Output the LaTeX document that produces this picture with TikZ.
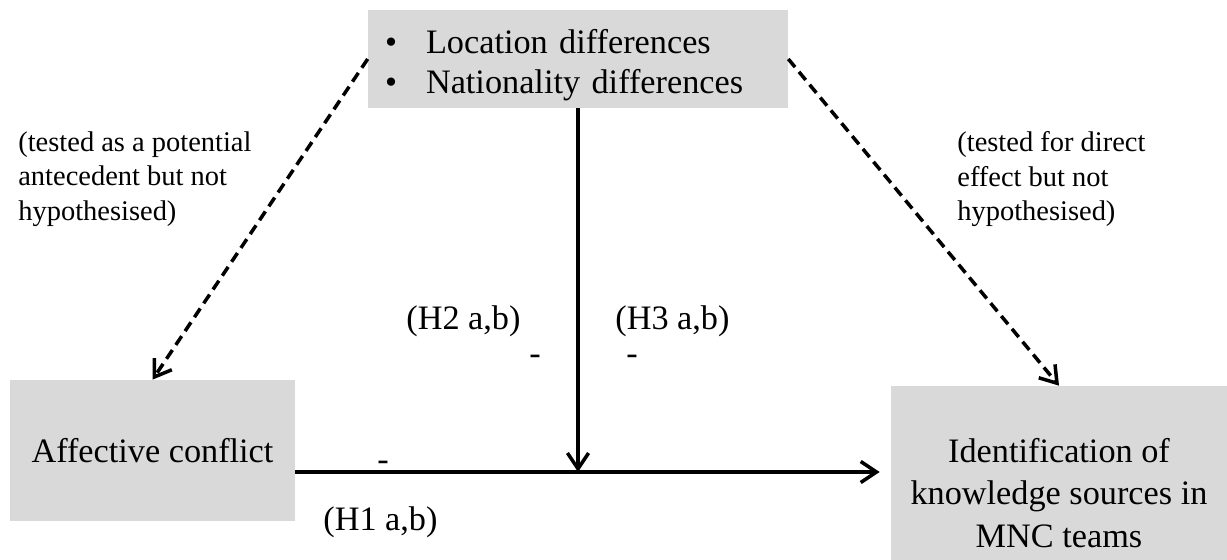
\documentclass[tikz,border=0pt]{standalone}
\usepackage{fontspec}
\setmainfont{Liberation Serif}
\usetikzlibrary{arrows.meta, positioning}
\definecolor{BoxGray}{RGB}{217,217,217}

\begin{document}
\begin{tikzpicture}[
    x=0.02cm, y=-0.02cm,
    box/.style={rectangle, fill=BoxGray, inner sep=0pt, align=center, font=\fontsize{19.5}{24}\selectfont},
    note/.style={anchor=north west, inner sep=0pt, align=left, font=\fontsize{16.2}{19.8}\selectfont},
    hyp/.style={anchor=base west, inner sep=0pt, font=\fontsize{19.5}{24}\selectfont},
    sign/.style={anchor=base, inner sep=0pt, font=\fontsize{19.5}{24}\selectfont},
    arrow/.style={-{Straight Barb[length=9pt,width=12pt]}, line width=2pt},
    dasharrow/.style={arrow, dash pattern=on 6pt off 3.5pt}
]
    \useasboundingbox (0,0) rectangle (1227,560);
    % Boxes
    \node[box, minimum width=8.4cm, minimum height=1.96cm, inner xsep=0.34cm, text width=7.72cm, align=left, font=\fontsize{19.5}{22.7}\selectfont] (diff) at (578,59)
        {\rule{0pt}{21pt}\makebox[0.82cm][l]{\textbullet}Location differences\\\makebox[0.82cm][l]{\textbullet}Nationality differences};
    \node[box, minimum width=5.7cm, minimum height=2.82cm] (aff) at (152.5,450.5) {Affective conflict};
    \node[box, minimum width=6.72cm, minimum height=4.28cm] (ident) at (1059,493) {Identification of\\knowledge sources in\\MNC teams};
    % Notes on the dashed paths
    \node[note] (noteleft) at (18,131) {(tested as a potential\\antecedent but not\\hypothesised)};
    \node[note] (noteright) at (957,131) {(tested for direct\\effect but not\\hypothesised)};
    % Hypotheses
    \node[hyp] (htwo) at (406,330) {(H2 a,b)};
    \node[hyp] (hthree) at (615,330) {(H3 a,b)};
    \node[hyp] (hone) at (323,530) {(H1 a,b)};
    \node[sign] (stwo) at (535,365) {-};
    \node[sign] (sthree) at (632,365) {-};
    \node[sign] (sone) at (383,470) {-};
    \coordinate (join) at (578,472);
    \draw[arrow] (diff.south) -- (join);
    \draw[arrow, shorten >=0.22cm] (aff.east |- join) -- (ident.west |- join);
    \draw[dasharrow] (diff.west) -- (aff.north);
    \draw[dasharrow] (diff.east) -- (ident.north);
\end{tikzpicture}
\end{document}
